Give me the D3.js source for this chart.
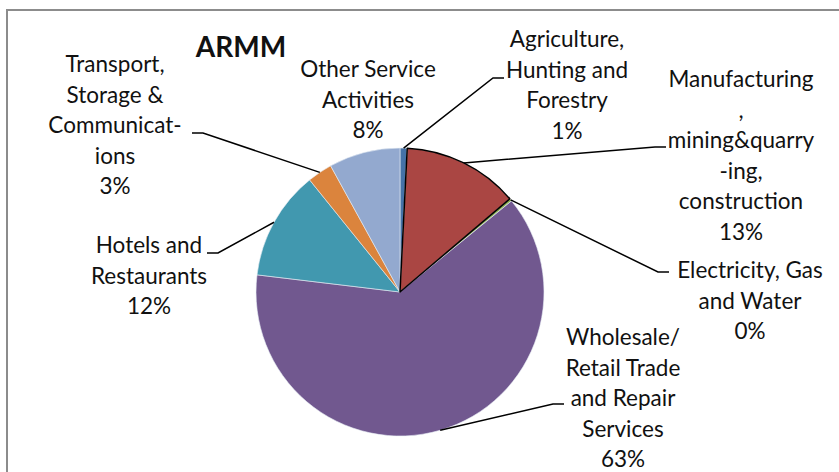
<!DOCTYPE html>
<html>
<head>
<meta charset="utf-8">
<script src="https://cdn.jsdelivr.net/npm/d3@7"></script>
<style>
  html, body { margin: 0; padding: 0; background: #fff; }
  svg { display: block; }
  text { font-family: Lato, "Open Sans", sans-serif; fill: #111; }
</style>
</head>
<body>
<svg id="chart" width="839" height="472"></svg>
<script>
// Sector shares of the ARMM economy (percent)
const categories = [
  "Agriculture, Hunting and Forestry",
  "Manufacturing, mining&quarrying, construction",
  "Electricity, Gas and Water",
  "Wholesale/Retail Trade and Repair Services",
  "Hotels and Restaurants",
  "Transport, Storage & Communications",
  "Other Service Activities"
];
const values = [0.8, 13.0, 0.3, 62.8, 12.3, 2.8, 8.0];

// Wrapped label text (the percentage line is appended from the data)
const labelLines = [
  ["Agriculture,", "Hunting and", "Forestry"],
  ["Manufacturing", ",", "mining&quarry", "-ing,", "construction"],
  ["Electricity, Gas", "and Water"],
  ["Wholesale/", "Retail Trade", "and Repair", "Services"],
  ["Hotels and", "Restaurants"],
  ["Transport,", "Storage &", "Communicat-", "ions"],
  ["Other Service", "Activities"]
];
const colors = ["#4572A7", "#AA4643", "#8DB352", "#71588F", "#4198AF", "#DB843D", "#93A9CF"];
const title = "ARMM";

// Layout: label block anchor (centre x, first baseline) and leader-line elbow
const labelLayout = [
  { x: 567, y: 47,  leader: { x: 493, y: 78, dir: 1 } },
  { x: 741, y: 87,  leader: { x: 655, y: 147, dir: 1 } },
  { x: 750, y: 278, leader: { x: 658, y: 272, dir: 1 } },
  { x: 623, y: 345, leader: { x: 553, y: 404, dir: 1 } },
  { x: 149, y: 253, leader: { x: 218, y: 253, dir: -1 } },
  { x: 115, y: 72,  leader: { x: 203, y: 133, dir: -1 } },
  { x: 368, y: 77,  leader: null }
];
const lineHeight = 30.5;

const svg = d3.select("#chart");
const cx = 400, cy = 292, radius = 144;

// Chart frame
svg.append("path")
  .attr("d", "M7,472 L7,10 L839,10")
  .attr("fill", "none")
  .attr("stroke", "#8c8c8c")
  .attr("stroke-width", 2);

const total = d3.sum(values);
const pie = d3.pie().sort(null).value(d => d)(values);
const arc = d3.arc().innerRadius(0).outerRadius(radius);

const g = svg.append("g").attr("transform", `translate(${cx},${cy})`);

g.selectAll("path.slice")
  .data(pie)
  .join("path")
  .attr("class", "slice")
  .attr("d", arc)
  .attr("fill", (d, i) => colors[i])
  .attr("stroke", "#e8eef5")
  .attr("stroke-width", 0.6);

// Outlined manufacturing slice drawn on top
g.append("path")
  .datum(pie[1])
  .attr("d", arc)
  .attr("fill", "none")
  .attr("stroke", "#000")
  .attr("stroke-width", 1.5)
  .attr("stroke-linejoin", "round");

// Leader lines: from the slice edge at its mid-angle to a short horizontal tick
pie.forEach((d, i) => {
  const L = labelLayout[i].leader;
  if (!L) return;
  const mid = (d.startAngle + d.endAngle) / 2;
  const px = cx + radius * Math.sin(mid);
  const py = cy - radius * Math.cos(mid);
  svg.append("path")
    .attr("d", `M${px},${py} L${L.x},${L.y} L${L.x + 11 * L.dir},${L.y}`)
    .attr("fill", "none")
    .attr("stroke", "#000")
    .attr("stroke-width", 1.5);
});

// Data labels
labelLines.forEach((lines, i) => {
  const pos = labelLayout[i];
  const pct = Math.round(values[i] / total * 100) + "%";
  const t = svg.append("text")
    .attr("text-anchor", "middle")
    .attr("font-size", 22.5);
  lines.concat([pct]).forEach((ln, k) => {
    t.append("tspan")
      .attr("x", pos.x)
      .attr("y", pos.y + k * lineHeight)
      .text(ln);
  });
});

// Title
svg.append("text")
  .attr("x", 241)
  .attr("y", 57)
  .attr("text-anchor", "middle")
  .attr("font-size", 28)
  .attr("font-weight", "bold")
  .text(title);
</script>
</body>
</html>
